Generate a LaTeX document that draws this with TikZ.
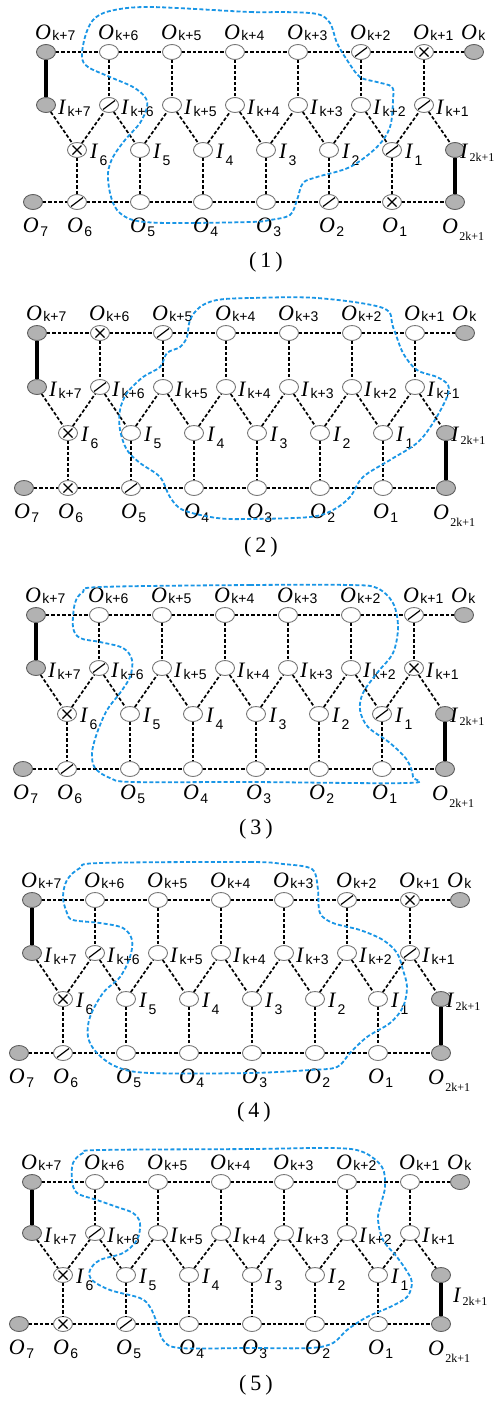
\documentclass[tikz,border=0pt]{standalone}
\usepackage{fontspec}
\setmainfont{Liberation Serif}
\setsansfont{Liberation Sans}
\usetikzlibrary{shapes.geometric}
\definecolor{nodegray}{RGB}{178,178,178}
\definecolor{rimgray}{RGB}{120,120,120}
\definecolor{curveblue}{RGB}{25,150,230}
\newcommand{\ssub}{\fontsize{14}{14}\selectfont\sffamily}
\newcommand{\rsub}{\fontsize{12}{12}\selectfont\rmfamily}
\newcommand{\glab}[4]{\fontsize{22}{22}\selectfont\textit{#1}\kern1.5pt\raisebox{-#3pt}{#4#2}}
\tikzset{
  wn/.style={ellipse, draw=rimgray, fill=white, line width=0.9pt, minimum width=19pt, minimum height=15pt, inner sep=0pt},
  gn/.style={wn, fill=nodegray, draw=rimgray!80!black},
  edge/.style={draw=black, line width=1.7pt, dash pattern=on 3.5pt off 2pt},
  bond/.style={draw=black, line width=3.4pt},
  lbl/.style={anchor=base west, inner sep=0pt, outer sep=0pt},
  captext/.style={inner sep=0pt, font=\fontsize{22}{22}\selectfont},
  blueline/.style={draw=curveblue, line width=1.8pt, dash pattern=on 4pt off 2.2pt},
  markline/.style={draw=black, line width=1.2pt}
}
\newcommand{\slashmark}[1]{\draw[markline] ([shift={(-6,4.5)}]#1.center) -- ([shift={(6,-4.5)}]#1.center);}
\newcommand{\crossmark}[1]{\draw[markline] ([shift={(-4.5,-4.5)}]#1.center) -- ([shift={(4.5,4.5)}]#1.center);
  \draw[markline] ([shift={(-4.5,4.5)}]#1.center) -- ([shift={(4.5,-4.5)}]#1.center);}
% #1 prefix, #2 X0, #3 top y, #4 mid y, #5 low y, #6 bottom y
\newcommand{\panel}[6]{%
  \node[gn] (#1t7) at (#2,#3) {};
  \node[gn] (#1m7) at (#2,#4) {};
  \foreach \j in {1,...,6} {
    \node[wn] (#1t\j) at ({#2+63*(7-\j)},#3) {};
    \node[wn] (#1m\j) at ({#2+63*(7-\j)},#4) {};
    \node[wn] (#1l\j) at ({#2+31+63*(6-\j)},#5) {};
    \node[wn] (#1b\j) at ({#2+31+63*(6-\j)},#6) {};
  }
  \node[gn] (#1ok) at ({#2+428},#3) {};
  \node[gn] (#1lx) at ({#2+409},#5) {};
  \node[gn] (#1bx) at ({#2+409},#6) {};
  \node[gn] (#1b7) at ({#2-13},#6) {};
  % connectors
  \draw[edge] (#1t7) -- (#1t6) -- (#1t5) -- (#1t4) -- (#1t3) -- (#1t2) -- (#1t1) -- (#1ok);
  \foreach \j in {1,...,6} {
    \draw[edge] (#1t\j) -- (#1m\j);
    \draw[edge] (#1l\j) -- (#1b\j);
  }
  \draw[edge] (#1m7) -- (#1l6) -- (#1m6) -- (#1l5) -- (#1m5) -- (#1l4) -- (#1m4) -- (#1l3) -- (#1m3) -- (#1l2) -- (#1m2) -- (#1l1) -- (#1m1) -- (#1lx);
  \draw[edge] (#1b7) -- (#1b6) -- (#1b5) -- (#1b4) -- (#1b3) -- (#1b2) -- (#1b1) -- (#1bx);
  \draw[bond] (#1t7) -- (#1m7);
  \draw[bond] (#1lx) -- (#1bx);
  % labels
  \foreach \j in {1,...,7} {
    \node[lbl] (#1tl\j) at ([shift={(-11,-13)}]#1t\j.center) {\glab{O}{k+\j}{1}{\ssub}};
    \node[lbl] (#1ml\j) at ([shift={(12,9)}]#1m\j.center) {\glab{I}{k+\j}{2}{\ssub}};
    \node[lbl] (#1bl\j) at ([shift={(-10,30)}]#1b\j.center) {\glab{O}{\j}{4}{\ssub}};
  }
  \foreach \j in {1,...,6} {
    \node[lbl] (#1ll\j) at ([shift={(13,8)}]#1l\j.center) {\glab{I}{\j}{7}{\ssub}};
  }
  \node[lbl] (#1okl) at ([shift={(-13,-13)}]#1ok.center) {\glab{O}{k}{1}{\ssub}};
  \node[lbl] (#1bxl) at ([shift={(-13,31)}]#1bx.center) {\glab{O}{2k+1}{7}{\rsub}};
}
\begin{document}
\begin{tikzpicture}[x=1pt,y=-1pt]
\useasboundingbox (0,0) rectangle (501,1401);
\fill[white] (0,0) rectangle (501,1401);

% ---------- panel 1 ----------
\panel{p1}{46}{52}{105}{150}{202}
\node[lbl] (p1lxl) at ([shift={(5,8)}]p1lx.center) {\glab{I}{2k+1}{3}{\rsub}};
\slashmark{p1t2} \crossmark{p1t1}
\slashmark{p1m6} \slashmark{p1m1}
\crossmark{p1l6} \slashmark{p1l1}
\slashmark{p1b6} \slashmark{p1b2} \crossmark{p1b1}
\node[captext] (cap1) at (266,262) {(\hspace{4pt}1\hspace{4pt})};
\draw[blueline] plot[smooth cycle, tension=0.55] coordinates {
 (150,7) (250,12) (283,12) (317,14) (330,23) (337,43) (347,60) (360,77) (377,82)
 (392,87) (393,100) (390,127) (377,147) (350,167) (317,177) (303,183) (297,200)
 (290,215) (270,220) (250,222) (167,223) (133,220) (117,210) (110,193) (108,173)
 (113,157) (125,140) (140,123) (147,107) (145,97) (133,87) (110,77) (88,67)
 (82,57) (85,37) (93,20) (110,11)};

% ---------- panel 2 ----------
\panel{p2}{37}{333}{387}{433}{488}
\node[lbl] (p2lxl) at ([shift={(5,8)}]p2lx.center) {\glab{I}{2k+1}{3}{\rsub}};
\crossmark{p2t6} \slashmark{p2t5}
\slashmark{p2m6}
\crossmark{p2l6}
\crossmark{p2b6} \slashmark{p2b5}
\node[captext] (cap2) at (261,547) {(\hspace{4pt}2\hspace{4pt})};
\draw[blueline] plot[smooth cycle, tension=0.55] coordinates {
 (217,300) (250,298) (317,298) (383,308) (393,327) (403,353) (417,370) (437,377)
 (448,385) (447,397) (433,423) (417,443) (390,460) (363,477) (350,497) (333,510)
 (310,517) (250,519) (217,518) (183,510) (170,497) (160,477) (140,463) (127,450)
 (120,430) (120,410) (127,393) (143,377) (160,367) (167,353) (180,347) (187,337)
 (190,320) (200,307)};

% ---------- panel 3 ----------
\panel{p3}{36}{615}{668}{714}{769}
\node[lbl] (p3lxl) at ([shift={(5,8)}]p3lx.center) {\glab{I}{2k+1}{3}{\rsub}};
\slashmark{p3t1}
\slashmark{p3m6} \crossmark{p3m1}
\crossmark{p3l6} \slashmark{p3l1}
\slashmark{p3b6}
\node[captext] (cap3) at (256,829) {(\hspace{4pt}3\hspace{4pt})};
\draw[blueline] plot[smooth cycle, tension=0.55] coordinates {
 (100,587) (250,585) (350,585) (377,588) (393,603) (398,627) (393,653) (377,673)
 (363,693) (360,710) (368,727) (390,743) (407,760) (413,777) (407,783) (250,782)
 (133,782) (110,778) (95,768) (92,753) (97,733) (107,710) (120,693) (130,677)
 (132,660) (123,648) (100,642) (80,638) (73,627) (75,603) (83,592)};

% ---------- panel 4 ----------
\panel{p4}{32}{900}{953}{999}{1053}
\node[lbl] (p4lxl) at ([shift={(5,8)}]p4lx.center) {\glab{I}{2k+1}{3}{\rsub}};
\slashmark{p4t2} \crossmark{p4t1}
\slashmark{p4m6} \slashmark{p4m1}
\crossmark{p4l6}
\slashmark{p4b6}
\node[captext] (cap4) at (254,1112) {(\hspace{4pt}4\hspace{4pt})};
\draw[blueline] plot[smooth cycle, tension=0.55] coordinates {
 (100,863) (250,862) (283,864) (307,867) (315,873) (318,890) (320,913) (333,923)
 (360,930) (383,940) (397,953) (403,970) (407,987) (403,1007) (390,1023) (367,1037)
 (350,1053) (337,1067) (310,1070) (250,1073) (150,1073) (117,1067) (97,1053)
 (88,1037) (90,1017) (103,993) (120,977) (130,957) (132,940) (123,928) (100,923)
 (73,920) (67,913) (63,897) (67,880) (80,868)};

% ---------- panel 5 ----------
\panel{p5}{32}{1182}{1233}{1275}{1324}
\node[lbl] (p5lxl) at ([shift={(12,27)}]p5lx.center) {\glab{I}{2k+1}{3}{\rsub}};
\slashmark{p5m6}
\crossmark{p5l6}
\crossmark{p5b6} \slashmark{p5b5}
\node[captext] (cap5) at (256,1385) {(\hspace{4pt}5\hspace{4pt})};
\draw[blueline] plot[smooth cycle, tension=0.55] coordinates {
 (100,1150) (250,1149) (333,1148) (363,1152) (382,1167) (385,1187) (380,1207)
 (378,1220) (383,1240) (397,1257) (408,1273) (412,1283) (407,1297) (390,1307)
 (367,1317) (347,1330) (333,1343) (310,1348) (250,1348) (180,1348) (163,1340)
 (157,1323) (150,1307) (140,1298) (110,1290) (92,1280) (90,1270) (100,1260)
 (123,1253) (137,1240) (140,1223) (133,1213) (117,1207) (97,1200) (77,1193)
 (72,1180) (73,1163) (83,1153)};
\end{tikzpicture}
\end{document}
